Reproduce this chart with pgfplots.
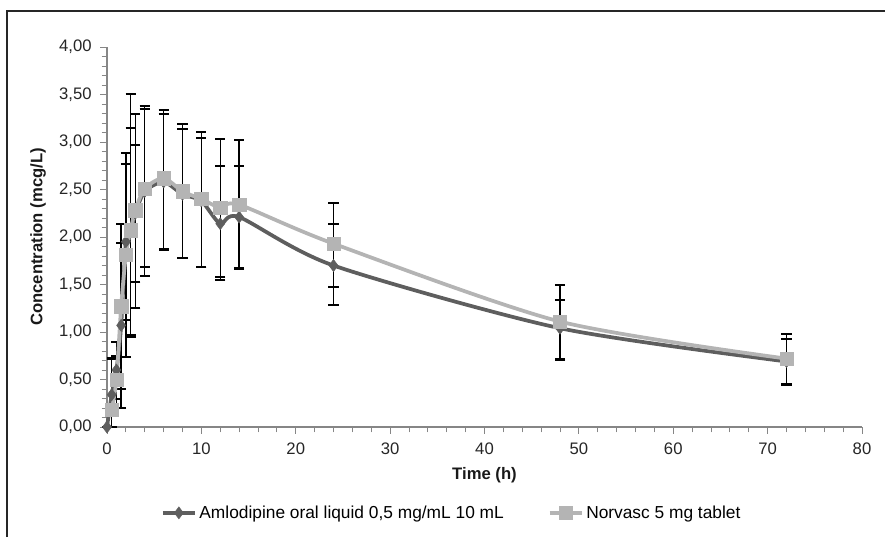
\documentclass[border=0pt]{standalone}
\usepackage{fontspec}
\setmainfont{Liberation Sans}
\usepackage{pgfplots}
\usepackage{pgfplotstable}
\pgfplotsset{compat=1.18}
\definecolor{aml}{HTML}{5E5E5E}
\definecolor{nor}{HTML}{B4B4B4}
\definecolor{axgray}{HTML}{868686}
\definecolor{frame}{HTML}{262626}

\pgfplotstableread{
t y ep em
0 0.00 0 0
0.5 0.34 0.38 0.34
1 0.60 0.30 0.30
1.5 1.07 0.87 0.87
2 1.95 0.82 0.82
2.5 2.05 1.10 1.08
3 2.25 0.72 0.72
4 2.48 0.87 0.80
6 2.58 0.72 0.72
8 2.45 0.69 0.67
10 2.38 0.66 0.70
12 2.14 0.61 0.59
14 2.21 0.54 0.54
24 1.70 0.44 0.42
48 1.04 0.30 0.33
72 0.69 0.24 0.25
}\aml

\pgfplotstableread{
t y ep em
0.5 0.18 0.55 0.18
1 0.50 0.25 0.30
1.5 1.27 0.87 0.87
2 1.81 1.07 1.07
2.5 2.07 1.44 1.12
3 2.28 1.02 1.03
4 2.51 0.87 0.92
6 2.62 0.72 0.75
8 2.48 0.71 0.70
10 2.40 0.71 0.72
12 2.31 0.72 0.73
14 2.34 0.68 0.68
24 1.93 0.43 0.46
48 1.11 0.39 0.39
72 0.72 0.26 0.27
}\nor

\begin{document}
\begin{tikzpicture}[x=1pt,y=1pt]
\useasboundingbox (0,0) rectangle (663.75,402.75);
\draw[line width=1.6pt, frame] (5.25,0) -- (5.25,394.5) -- (663.75,394.5);
\begin{axis}[
  at={(80.25pt,82.5pt)}, anchor=south west,
  scale only axis, width=566.25pt, height=285pt,
  xmin=0, xmax=80, ymin=0, ymax=4,
  clip=false,
  axis x line*=bottom, axis y line*=left,
  axis line style={axgray, line width=0.8pt},
  xtick={0,10,...,80}, ytick={0,0.5,...,4},
  minor x tick num=4, minor y tick num=4,
  tick align=outside,
  tick style={axgray, line width=0.6pt},
  major tick length=5pt, minor tick length=4pt,
  tick label style={font=\fontsize{12.5}{14}\selectfont, text=black!85},
  /pgf/number format/assume math mode=true,
  yticklabel style={xshift=-3pt, /pgf/number format/.cd, fixed, fixed zerofill, precision=2, use comma},
  xticklabel style={yshift=-3pt, /pgf/number format/.cd, fixed, precision=0},
  xlabel={\textbf{Time (h)}},
  ylabel={\textbf{Concentration (mcg/L)}},
  label style={font=\fontsize{12.5}{14}\selectfont, text=black!90},
  xlabel style={at={(axis description cs:0.5,-0.126)}, anchor=center},
  ylabel style={at={(axis description cs:-0.0914,0.5)}, anchor=center},
  legend style={at={(axis description cs:0.457,-0.226)}, anchor=center, draw=none, fill=none,
    legend columns=2, font=\fontsize{13}{15}\selectfont,
    /tikz/every even column/.append style={column sep=31pt}},
  legend cell align=left,
  legend image code/.code={\draw[mark repeat=2,mark phase=2,#1] plot coordinates {(0pt,0pt) (12pt,0pt) (24pt,0pt)};},
]
\addplot[forget plot, draw=none, mark=none,
  error bars/.cd, y dir=both, y explicit,
  error bar style={draw=black, line width=1pt, solid},
  error mark options={draw=black, rotate=90, mark size=3.8pt, line width=1.5pt}]
  table[x=t, y=y, y error plus=ep, y error minus=em] {\aml};
\addplot[forget plot, draw=none, mark=none,
  error bars/.cd, y dir=both, y explicit,
  error bar style={draw=black, line width=1pt, solid},
  error mark options={draw=black, rotate=90, mark size=3.8pt, line width=1.5pt}]
  table[x=t, y=y, y error plus=ep, y error minus=em] {\nor};
\addplot[aml, line width=2.8pt, smooth, tension=0.45, mark=diamond*, mark size=4.5pt,
  mark options={solid, fill=aml, draw=aml, line width=0.4pt}]
  table[x=t, y=y] {\aml};
\addlegendentry{Amlodipine oral liquid 0,5 mg/mL 10 mL}
\addplot[nor, line width=2.8pt, smooth, tension=0.45, mark=square*, mark size=5pt,
  mark options={solid, fill=nor, draw=nor, line width=0.4pt}]
  table[x=t, y=y] {\nor};
\addlegendentry{Norvasc 5 mg tablet}
\end{axis}
\end{tikzpicture}
\end{document}
